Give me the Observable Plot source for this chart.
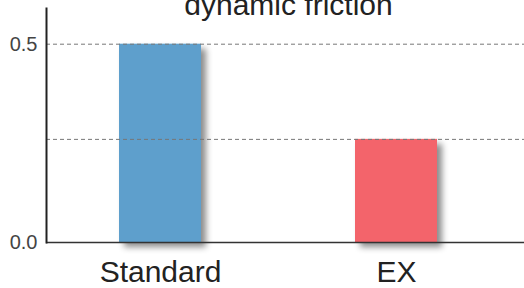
<!DOCTYPE html>
<html>
<head>
<meta charset="utf-8">
<script src="https://cdn.jsdelivr.net/npm/d3@7"></script>
<script src="https://cdn.jsdelivr.net/npm/@observablehq/plot@0.6"></script>
<style>
  body { margin: 0; background: #fff; }
  #chart svg { display: block; }
</style>
</head>
<body>
<div id="chart"></div>
<script>
const title = "dynamic friction";
const categories = ["Standard", "EX"];
const values = [0.5, 0.26];
const colors = ["#5e9fcc", "#f3646b"];
const yTicks = [0, 0.5];
const gridValues = [0.5, 0.26];

const data = categories.map((c, i) => ({category: c, value: values[i], color: colors[i]}));
const grid = gridValues.map(v => ({value: v}));

const font = "'Liberation Sans', Arial, Helvetica, sans-serif";

const chart = Plot.plot({
  width: 524,
  height: 288,
  marginTop: 8,
  marginBottom: 46,
  marginLeft: 46,
  marginRight: 0,
  style: {fontFamily: font, background: "#fff", color: "#222"},
  x: {domain: categories, range: [47, 508], paddingInner: 0.654, paddingOuter: 0.3},
  y: {domain: [0, 0.59]},
  marks: [
    Plot.barY(data, {x: "category", y: "value", fill: "color"}),
    Plot.ruleY(grid, {y: "value", stroke: "#777", strokeWidth: 1, strokeDasharray: "4,3"}),
    Plot.ruleY([0], {stroke: "#333", strokeWidth: 1.6}),
    Plot.frame({anchor: "left", stroke: "#222", strokeWidth: 2}),
    Plot.axisY({ticks: yTicks, tickFormat: d3.format(".1f"), tickSize: 0, tickPadding: 9, fontSize: 20, fill: "#444", label: null}),
    Plot.axisX({tickSize: 0, tickPadding: 18, fontSize: 30, fill: "#222", label: null}),
    Plot.text([title], {frameAnchor: "top", lineAnchor: "bottom", dy: 6, dx: 3, fontSize: 30, fill: "#222"})
  ]
});

const bars = chart.querySelector('g[aria-label="bar"]');
if (bars) bars.style.filter = "drop-shadow(5px 5px 3px rgba(0,0,0,0.45))";

document.getElementById("chart").appendChild(chart);
</script>
</body>
</html>
